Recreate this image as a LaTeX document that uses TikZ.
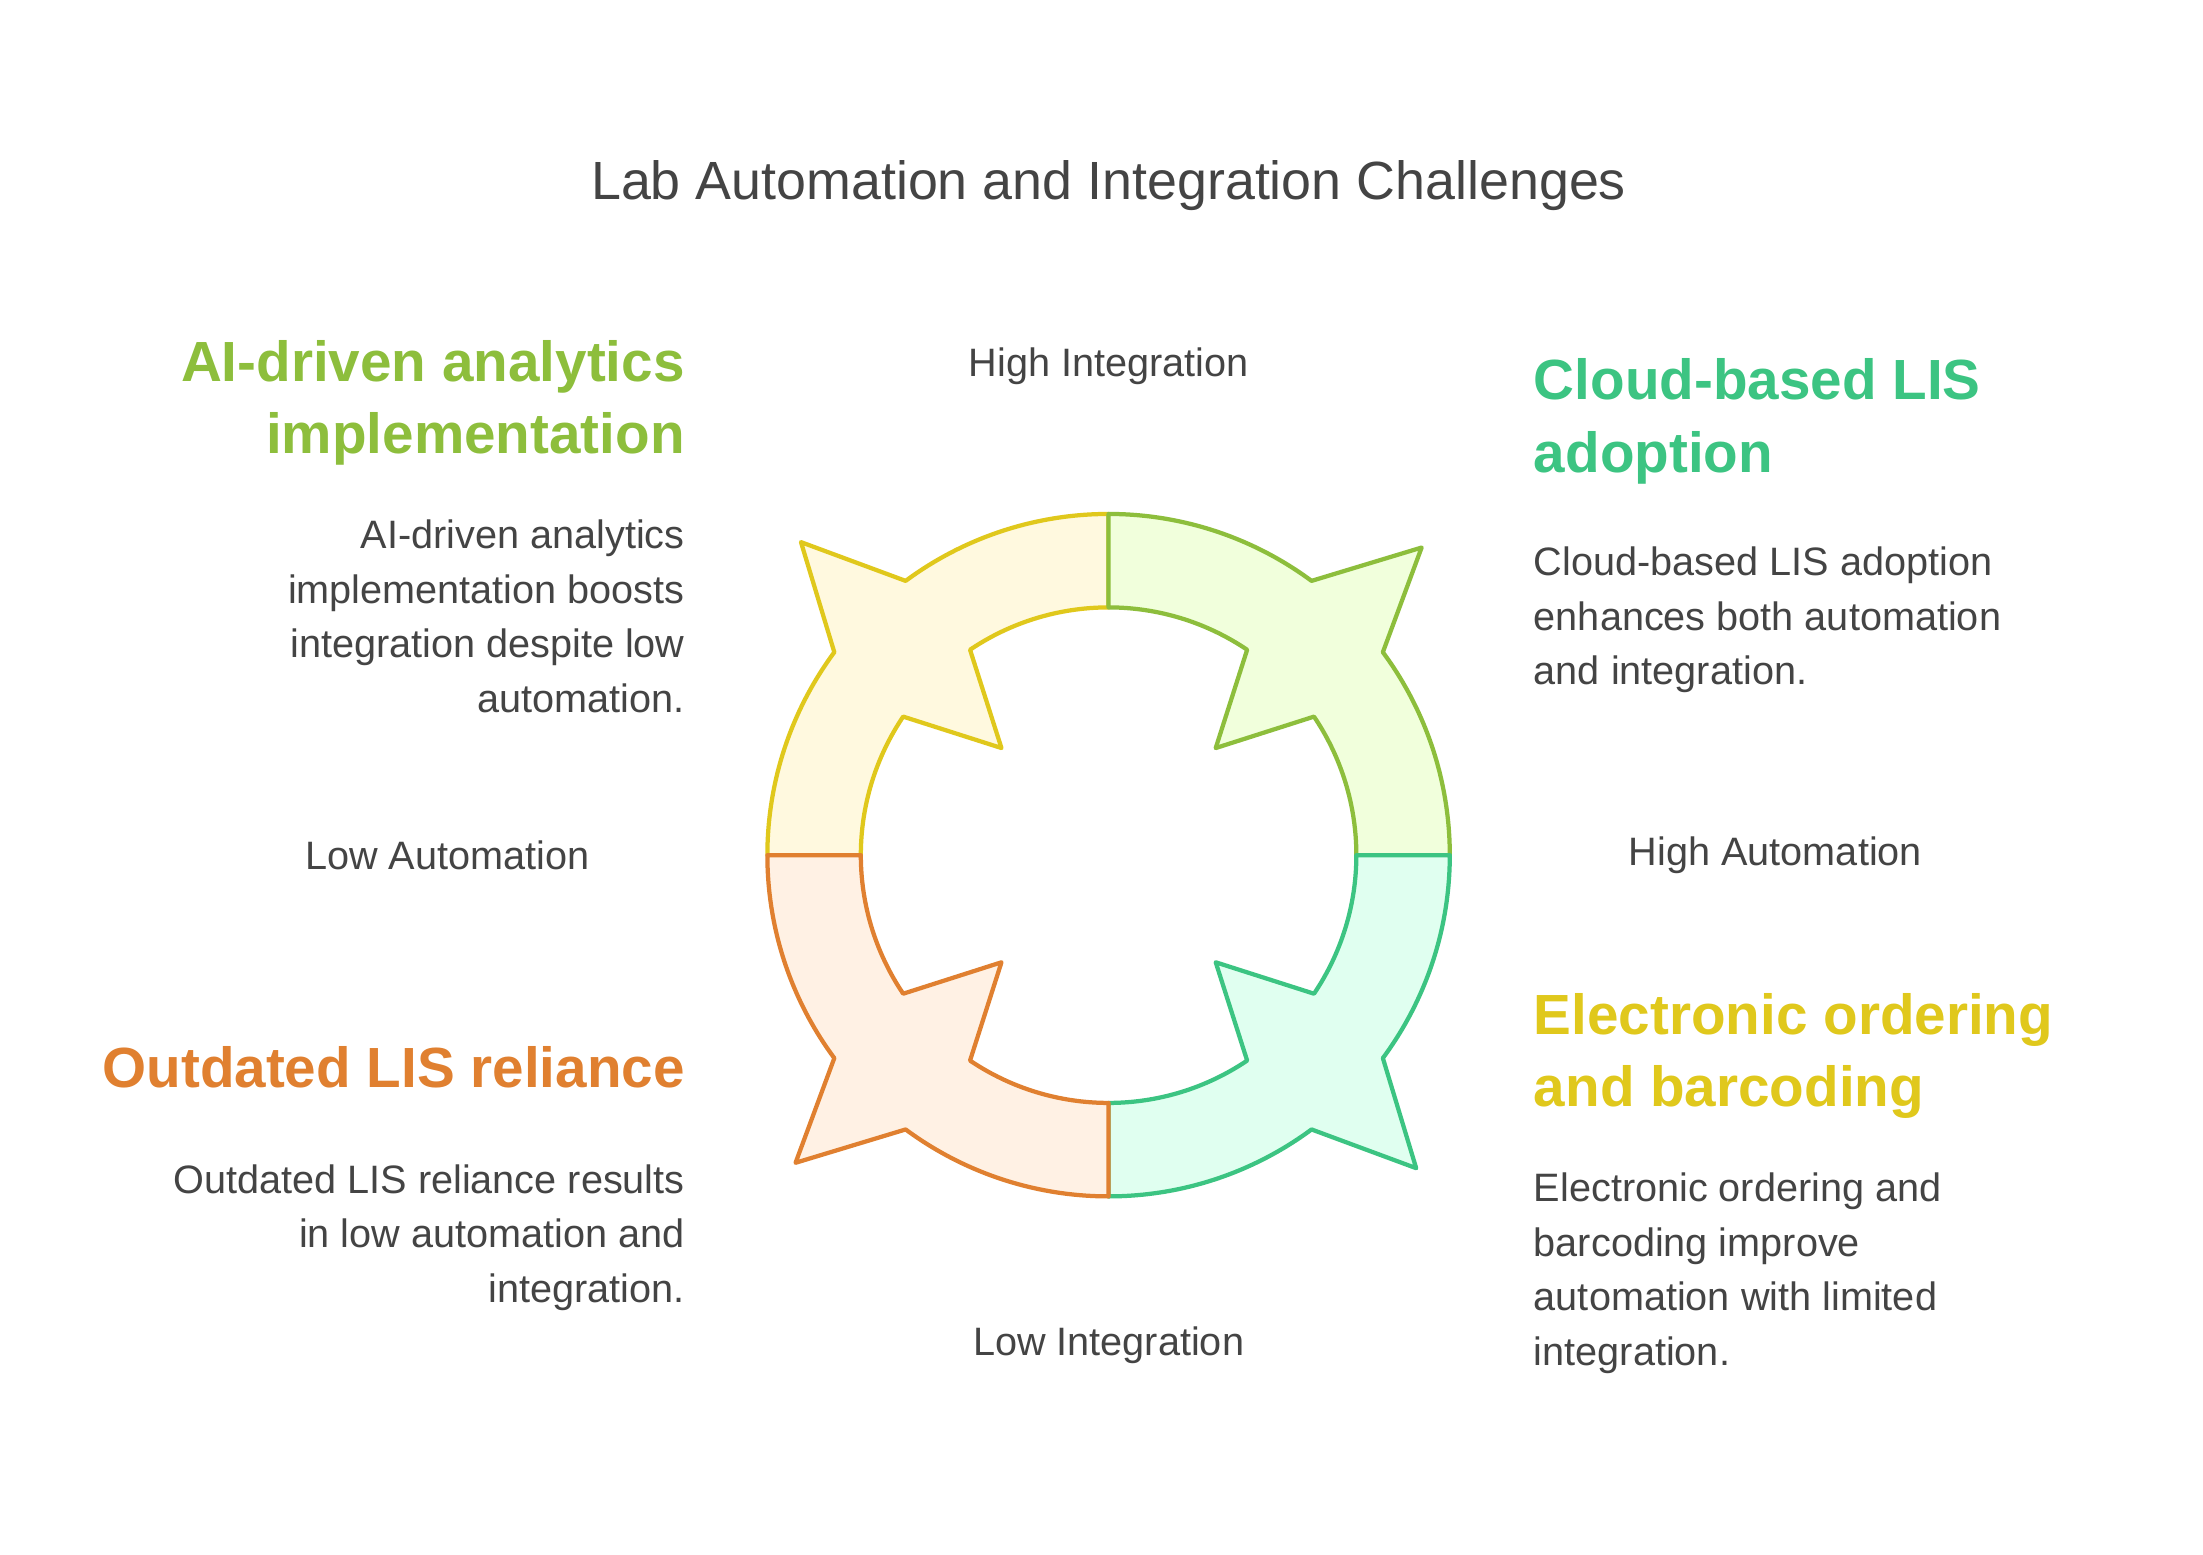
\documentclass[tikz,border=0pt]{standalone}
\usepackage{fontspec}
\setmainfont{Liberation Sans}
\definecolor{cy}{HTML}{E0C81C}\definecolor{fy}{HTML}{FFF9DF}
\definecolor{cl}{HTML}{8DBE3C}\definecolor{fl}{HTML}{F1FFDC}
\definecolor{cg}{HTML}{3CC482}\definecolor{fg}{HTML}{E0FFF0}
\definecolor{co}{HTML}{E08030}\definecolor{fo}{HTML}{FFF1E4}
\definecolor{tx}{HTML}{444444}
\newcommand{\qshape}[5]{% a0 a1 m stroke fill
\draw[line width=1.5pt,line join=round,draw=#4,fill=#5]
 (#1:241) arc[start angle=#1,end angle=#3+8.5,radius=241]
 -- (#3-0.5:310) -- (#3-8.5:241)
 arc[start angle=#3-8.5,end angle=#2,radius=241]
 -- (#2:175) arc[start angle=#2,end angle=#3-11,radius=175]
 -- (#3:107) -- (#3+11:175)
 arc[start angle=#3+11,end angle=#1,radius=175] -- cycle;}
\begin{document}
\begin{tikzpicture}[x=0.5pt,y=-0.5pt,
 body/.style={inner sep=0,font=\fontsize{14pt}{19.25pt}\selectfont,text=tx},
 head/.style={inner sep=0,font=\fontsize{20pt}{25.5pt}\selectfont\bfseries},
 ax/.style={inner sep=0,font=\fontsize{14pt}{17pt}\selectfont,text=tx}]
\useasboundingbox[fill=white] (0,0) rectangle (1556,1098);
\node[inner sep=0,font=\fontsize{19pt}{23pt}\selectfont,text=tx] (title) at (783,131) {Lab Automation and Integration Challenges};
\begin{scope}[shift={(783,604)},yscale=-1]
\qshape{180}{90}{135}{cy}{fy}
\qshape{90}{0}{45}{cl}{fl}
\qshape{0}{-90}{-45}{cg}{fg}
\qshape{-90}{-180}{-135}{co}{fo}
\end{scope}
\node[ax] (hi) at (783,259) {High Integration};
\node[ax] (li) at (783,950) {Low Integration};
\node[ax] (la) at (316,604) {Low Automation};
\node[ax] (ha) at (1254,604) {High Automation};
\node[head,text=cl,align=right,anchor=north east] (h1) at (484,240) {AI-driven analytics\\implementation};
\node[body,align=right,anchor=north east] (b1) at (484,367) {AI-driven analytics\\implementation boosts\\integration despite low\\automation.};
\node[head,text=cg,align=left,anchor=north west] (h2) at (1083,253) {Cloud-based LIS\\adoption};
\node[body,align=left,anchor=north west] (b2) at (1083,386) {Cloud-based LIS adoption\\enhances both automation\\and integration.};
\node[head,text=cy,align=left,anchor=north west] (h3) at (1083,701) {Electronic ordering\\and barcoding};
\node[body,align=left,anchor=north west] (b3) at (1083,828) {Electronic ordering and\\barcoding improve\\automation with limited\\integration.};
\node[head,text=co,align=right,anchor=north east] (h4) at (484,739) {Outdated LIS reliance};
\node[body,align=right,anchor=north east] (b4) at (484,822) {Outdated LIS reliance results\\in low automation and\\integration.};
\end{tikzpicture}
\end{document}
